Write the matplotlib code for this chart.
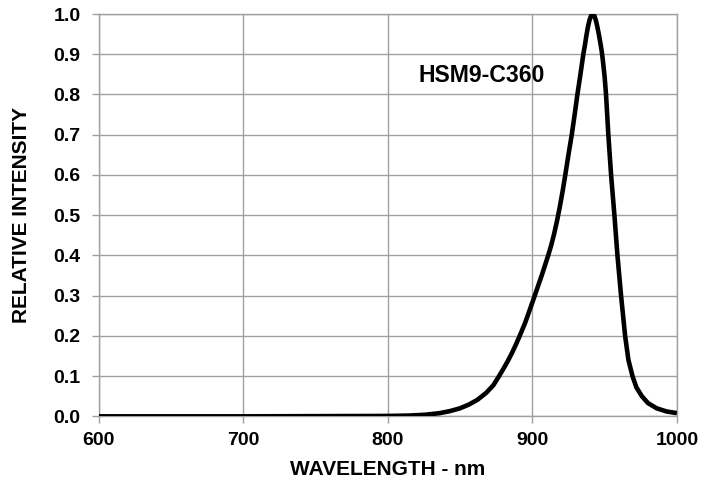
import matplotlib
matplotlib.use("Agg")
import matplotlib.pyplot as plt

# spectrum
wavelength = [600, 650, 700, 750, 800, 815, 826, 836, 843, 850, 856, 862, 868,
              873, 877, 880, 883, 886, 889, 892, 895, 898, 901.4, 906.5, 911,
              913, 915, 917, 919, 921, 923, 925, 927.3, 929.3, 931.2, 933.3,
              935.3, 936.5, 937.5, 938.5, 939.5, 940.7, 941.8, 942.9, 944, 945,
              946, 947, 948, 948.8, 950, 951, 952.6, 954.5, 956.8, 958.9,
              961.4, 964.2, 966.5, 969.3, 972, 975.8, 980, 986, 993, 1000]
intensity = [0.0, 0.0, 0.0, 0.0005, 0.001, 0.002, 0.004, 0.008, 0.013, 0.02,
             0.029, 0.041, 0.058, 0.077, 0.1, 0.118, 0.137, 0.158, 0.181,
             0.206, 0.232, 0.262, 0.297, 0.35, 0.4, 0.424, 0.452, 0.484, 0.52,
             0.56, 0.604, 0.65, 0.7, 0.75, 0.8, 0.85, 0.9, 0.925, 0.948, 0.968,
             0.984, 0.996, 1.0, 0.996, 0.984, 0.968, 0.95, 0.93, 0.908, 0.885,
             0.845, 0.8, 0.7, 0.6, 0.5, 0.4, 0.3, 0.2, 0.14, 0.1, 0.072, 0.05,
             0.033, 0.02, 0.012, 0.008]

x_ticks = [600, 700, 800, 900, 1000]
y_ticks = [0.0, 0.1, 0.2, 0.3, 0.4, 0.5, 0.6, 0.7, 0.8, 0.9, 1.0]
part_name = "HSM9-C360"

plt.rcParams["font.family"] = ["Liberation Sans", "DejaVu Sans"]
plt.rcParams["font.weight"] = "bold"

fig = plt.figure(figsize=(7.14, 4.83), dpi=100)
ax = fig.add_axes([0.138, 0.138, 0.810, 0.833])

grid_col = "#a0a0a0"
ax.plot(wavelength, intensity, color="black", lw=3.3,
        solid_capstyle="butt", solid_joinstyle="round", zorder=3)

ax.set_xlim(600, 1000)
ax.set_ylim(0, 1.0)
ax.set_xticks(x_ticks)
ax.set_yticks(y_ticks)
ax.set_xticklabels([str(v) for v in x_ticks])
ax.set_yticklabels([f"{v:.1f}" for v in y_ticks])
ax.grid(True, color=grid_col, lw=1.0)
ax.set_axisbelow(True)
for s in ax.spines.values():
    s.set_color(grid_col)
    s.set_linewidth(1.0)
ax.tick_params(axis="both", direction="out", length=5, width=1.0,
               color=grid_col, labelsize=14)
ax.tick_params(axis="y", pad=8)
ax.tick_params(axis="x", pad=6)
for lab in ax.get_xticklabels() + ax.get_yticklabels():
    lab.set_fontweight("bold")

ax.set_xlabel("WAVELENGTH - nm", fontsize=15, fontweight="bold", labelpad=8)
ax.set_ylabel("RELATIVE INTENSITY", fontsize=15, fontweight="bold", labelpad=16)

ax.text(821, 0.848, part_name, fontsize=16.6, fontweight="bold",
        ha="left", va="center")

fig.savefig("out.png", dpi=100)
